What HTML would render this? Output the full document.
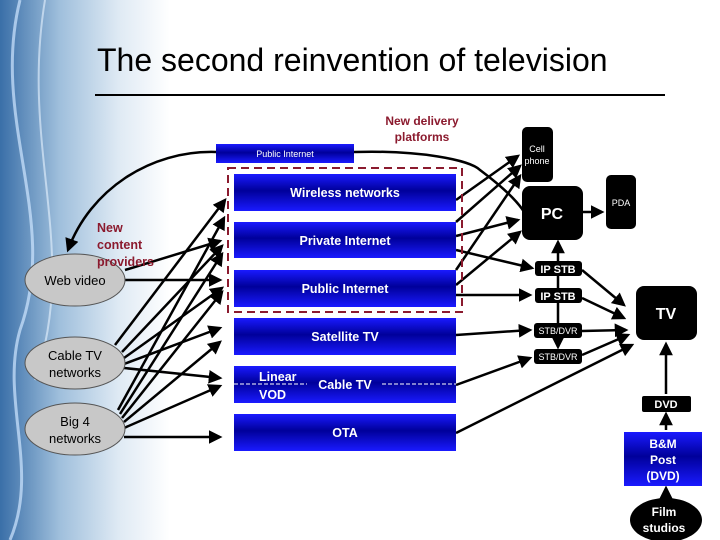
<!DOCTYPE html>
<html><head><meta charset="utf-8"><style>
html,body{margin:0;padding:0;background:#fff}
svg{display:block}
text{font-family:"Liberation Sans",Arial,sans-serif}
</style></head><body>
<svg width="720" height="540" viewBox="0 0 720 540" xmlns="http://www.w3.org/2000/svg">
<defs>
<linearGradient id="bg" x1="0" y1="0" x2="1" y2="0">
<stop offset="0" stop-color="#3a6fa8"/>
<stop offset="0.35" stop-color="#9fbfdc"/>
<stop offset="0.7" stop-color="#dfeaf4"/>
<stop offset="1" stop-color="#ffffff"/>
</linearGradient>
<linearGradient id="blue" x1="0" y1="0" x2="0" y2="1">
<stop offset="0" stop-color="#1a1aff"/>
<stop offset="0.45" stop-color="#00009a"/>
<stop offset="1" stop-color="#1a1aff"/>
</linearGradient>
<marker id="a" markerWidth="5.5" markerHeight="5.5" refX="4.5" refY="2.75" orient="auto" markerUnits="strokeWidth"><path d="M0,0 L5.5,2.75 L0,5.5 z" fill="#000"/></marker>
</defs>
<rect x="0" y="0" width="170" height="540" fill="url(#bg)"/>
<path d="M20,0 C-10,120 60,220 20,330 C0,400 40,470 10,540" stroke="#cfe6ff" stroke-width="3" fill="none" opacity="0.7"/>
<path d="M45,0 C20,150 80,250 35,380" stroke="#e8f4ff" stroke-width="2" fill="none" opacity="0.6"/>
<text x="97" y="71" font-size="32" fill="#000">The second reinvention of television</text>
<line x1="95" y1="95" x2="665" y2="95" stroke="#000" stroke-width="2"/>
<text x="422" y="125" font-size="12" font-weight="bold" fill="#8b1a2e" text-anchor="middle">New delivery</text>
<text x="422" y="141" font-size="12" font-weight="bold" fill="#8b1a2e" text-anchor="middle">platforms</text>

<g stroke="#000" stroke-width="2.5" fill="none" marker-end="url(#a)">
<path d="M216,152 C150,150 90,190 68,250"/>
<path d="M354,152 C420,150 470,160 480,170 C500,185 530,210 528,225" marker-end="none"/>
<line x1="125" y1="270" x2="220" y2="241"/>
<line x1="125" y1="280" x2="220" y2="280"/>
<line x1="115" y1="345" x2="225" y2="200"/>
<line x1="122" y1="352" x2="222" y2="246"/>
<line x1="124" y1="358" x2="222" y2="288"/>
<line x1="124" y1="364" x2="220" y2="328"/>
<line x1="124" y1="368" x2="220" y2="378"/>
<line x1="118" y1="410" x2="224" y2="218"/>
<line x1="120" y1="414" x2="222" y2="254"/>
<line x1="122" y1="418" x2="222" y2="292"/>
<line x1="124" y1="422" x2="220" y2="342"/>
<line x1="124" y1="428" x2="220" y2="386"/>
<line x1="124" y1="437" x2="220" y2="437"/>
<line x1="456" y1="200" x2="518" y2="156"/>
<line x1="456" y1="222" x2="520" y2="166"/>
<line x1="456" y1="236" x2="518" y2="220"/>
<line x1="456" y1="250" x2="532" y2="268"/>
<line x1="456" y1="270" x2="520" y2="176"/>
<line x1="456" y1="285" x2="520" y2="232"/>
<line x1="456" y1="295" x2="530" y2="295"/>
<line x1="456" y1="335" x2="530" y2="330"/>
<line x1="456" y1="385" x2="530" y2="358"/>
<line x1="456" y1="433" x2="632" y2="345"/>
<line x1="583" y1="212" x2="602" y2="212"/>
<line x1="558" y1="262" x2="558" y2="242"/>
<line x1="558" y1="262" x2="558" y2="347" marker-end="none"/>
<line x1="558" y1="340" x2="558" y2="347"/>
<line x1="582" y1="270" x2="624" y2="305"/>
<line x1="582" y1="298" x2="624" y2="318"/>
<line x1="582" y1="331" x2="626" y2="330"/>
<line x1="582" y1="355" x2="628" y2="335"/>
<line x1="666" y1="394" x2="666" y2="344"/>
<line x1="666" y1="430" x2="666" y2="414"/>
<line x1="666" y1="498" x2="666" y2="488"/>
</g>

<rect x="216" y="144" width="138" height="19" fill="url(#blue)"/>
<text x="285" y="157" font-size="9" fill="#fff" text-anchor="middle">Public Internet</text>
<rect x="228" y="168" width="234" height="144" fill="none" stroke="#8b1a2e" stroke-width="2" stroke-dasharray="8,5"/>
<g fill="url(#blue)">
<rect x="234" y="174" width="222" height="37"/>
<rect x="234" y="222" width="222" height="36"/>
<rect x="234" y="270" width="222" height="37"/>
<rect x="234" y="318" width="222" height="37"/>
<rect x="234" y="366" width="222" height="37"/>
<rect x="234" y="414" width="222" height="37"/>
</g>
<g fill="#fff" font-size="12.5" font-weight="bold" text-anchor="middle">
<text x="345" y="197">Wireless networks</text>
<text x="345" y="245">Private Internet</text>
<text x="345" y="293">Public Internet</text>
<text x="345" y="341">Satellite TV</text>
<text x="345" y="389">Cable TV</text>
<text x="345" y="437">OTA</text>
<text x="259" y="381" text-anchor="start">Linear</text>
<text x="259" y="399" text-anchor="start">VOD</text>
</g>
<line x1="234" y1="384" x2="307" y2="384" stroke="#fff" stroke-dasharray="4,2"/>
<line x1="382" y1="384" x2="456" y2="384" stroke="#fff" stroke-dasharray="4,2"/>

<g fill="#c8c8c8" stroke="#555" stroke-width="1">
<ellipse cx="75" cy="280" rx="50" ry="26"/>
<ellipse cx="75" cy="363" rx="50" ry="26"/>
<ellipse cx="75" cy="429" rx="50" ry="26"/>
</g>
<g font-size="13" fill="#000" text-anchor="middle">
<text x="75" y="285">Web video</text>
<text x="75" y="360">Cable TV</text>
<text x="75" y="377">networks</text>
<text x="75" y="426">Big 4</text>
<text x="75" y="443">networks</text>
</g>
<g font-size="12.5" font-weight="bold" fill="#8b1a2e">
<text x="97" y="232">New</text>
<text x="97" y="249">content</text>
<text x="97" y="266">providers</text>
</g>

<g fill="#000">
<rect x="522" y="127" width="31" height="55" rx="5"/>
<rect x="522" y="186" width="61" height="54" rx="8"/>
<rect x="606" y="175" width="30" height="54" rx="5"/>
<rect x="535" y="261" width="47" height="15" rx="3"/>
<rect x="535" y="288" width="47" height="15" rx="3"/>
<rect x="534" y="323" width="48" height="15" rx="3"/>
<rect x="534" y="349" width="48" height="15" rx="3"/>
<rect x="636" y="286" width="61" height="54" rx="8"/>
<rect x="642" y="396" width="49" height="16" rx="2"/>
<ellipse cx="666" cy="520" rx="36" ry="22"/>
</g>
<rect x="624" y="432" width="78" height="54" fill="url(#blue)"/>
<g fill="#fff" text-anchor="middle">
<text x="537" y="152" font-size="9">Cell</text>
<text x="537" y="164" font-size="9">phone</text>
<text x="552" y="219" font-size="16" font-weight="bold">PC</text>
<text x="621" y="206" font-size="9">PDA</text>
<text x="558" y="273" font-size="11" font-weight="bold">IP STB</text>
<text x="558" y="300" font-size="11" font-weight="bold">IP STB</text>
<text x="558" y="334" font-size="9">STB/DVR</text>
<text x="558" y="360" font-size="9">STB/DVR</text>
<text x="666" y="319" font-size="16" font-weight="bold">TV</text>
<text x="666" y="408" font-size="11" font-weight="bold">DVD</text>
<text x="663" y="448" font-size="12" font-weight="bold">B&amp;M</text>
<text x="663" y="464" font-size="12" font-weight="bold">Post</text>
<text x="663" y="480" font-size="12" font-weight="bold">(DVD)</text>
<text x="664" y="516" font-size="12" font-weight="bold">Film</text>
<text x="664" y="532" font-size="12" font-weight="bold">studios</text>
</g>
</svg>
</body></html>
